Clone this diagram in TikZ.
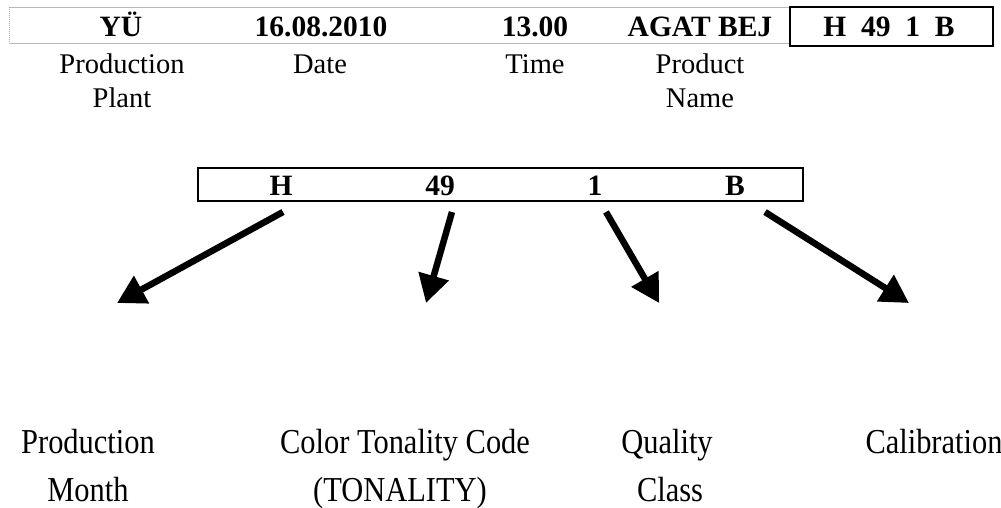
\documentclass[tikz,border=0pt]{standalone}
\usepackage{fontspec}
\setmainfont{Liberation Serif}
\usetikzlibrary{arrows.meta}
\begin{document}
\begin{tikzpicture}[x=1pt,y=-1pt,
  hdr/.style={font=\fontsize{29.5}{30}\selectfont\bfseries, inner sep=0pt, anchor=base},
  lbl/.style={font=\fontsize{28.5}{34}\selectfont, inner sep=0pt, align=center, anchor=base},
  code/.style={font=\fontsize{29.5}{30}\selectfont\bfseries, inner sep=0pt, anchor=base},
  bot/.style={font=\fontsize{35}{35}\selectfont, inner sep=0pt, anchor=base, xscale=0.87},
  arr/.style={line width=6.5pt, -{Triangle[length=28pt,width=30pt]}}]
\useasboundingbox (0,0) rectangle (1001,507);
% top table
\draw[gray!55, line width=0.8pt] (9,7) -- (790,7);
\draw[gray!55, line width=0.8pt] (9,43) -- (790,43);
\draw[gray!70, line width=1pt, densely dotted] (9,7) -- (9,43);
\draw[line width=2pt] (790,7) rectangle (993,46);
\node[hdr] (yu) at (121,36) {YÜ};
\node[hdr] (date) at (321,36) {16.08.2010};
\node[hdr] (time) at (535,36) {13.00};
\node[hdr] (name) at (700,36) {AGAT BEJ};
\node[hdr] (full) at (889,36) {H\ \ 49\ \ 1\ \ B};
\node[lbl] (l1) at (122,73) {Production};
\node[lbl] (l1b) at (122,107) {Plant};
\node[lbl] (l2) at (320,73) {Date};
\node[lbl] (l3) at (535,73) {Time};
\node[lbl] (l4) at (700,73) {Product};
\node[lbl] (l4b) at (700,107) {Name};
% middle code box
\draw[line width=2pt] (198,168) rectangle (803,201);
\node[code] (h) at (281,195) {H};
\node[code] (n49) at (440,195) {49};
\node[code] (n1) at (595,195) {1};
\node[code] (b) at (735,195) {B};
% arrow endpoints
\coordinate (s1) at (283,212);
\coordinate (e1) at (117,303);
\coordinate (s2) at (452,212);
\coordinate (e2) at (426,303);
\coordinate (s3) at (606,212);
\coordinate (e3) at (659,303);
\coordinate (s4) at (765,212);
\coordinate (e4) at (909,303);
\draw[arr] (s1) -- (e1);
\draw[arr] (s2) -- (e2);
\draw[arr] (s3) -- (e3);
\draw[arr] (s4) -- (e4);
% bottom labels
\node[bot] (m1) at (88,453) {Production};
\node[bot] (m1b) at (88,501) {Month};
\node[bot] (m2) at (405,453) {Color Tonality Code};
\node[bot] (m2b) at (400,501) {(TONALITY)};
\node[bot] (m3) at (667,453) {Quality};
\node[bot] (m3b) at (670,501) {Class};
\node[bot] (m4) at (934,453) {Calibration};
\end{tikzpicture}
\end{document}
